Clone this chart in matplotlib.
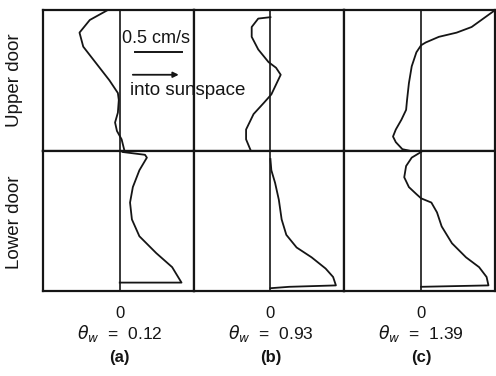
import matplotlib
matplotlib.use("Agg")
import matplotlib.pyplot as plt

plt.rcParams['font.family'] = ['Liberation Sans', 'DejaVu Sans']

# velocity (cm/s) and normalized height within the door opening
a_up_v = [-0.13, -0.32, -0.43, -0.39, -0.25, -0.11, -0.02, -0.01, -0.02, -0.05, -0.03, 0.02, 0.05]
a_up_h = [1.00, 0.93, 0.84, 0.74, 0.62, 0.50, 0.41, 0.36, 0.27, 0.20, 0.14, 0.08, 0.00]
a_lo_v = [0.03, 0.27, 0.29, 0.21, 0.14, 0.11, 0.13, 0.21, 0.39, 0.56, 0.66, 0.00]
a_lo_h = [0.99, 0.97, 0.95, 0.86, 0.74, 0.63, 0.51, 0.39, 0.27, 0.17, 0.06, 0.06]

b_up_v = [0.00, -0.13, -0.20, -0.20, -0.13, -0.02, 0.06, 0.11, 0.06, 0.01, -0.07, -0.18, -0.26, -0.26, -0.21]
b_up_h = [0.95, 0.94, 0.88, 0.81, 0.72, 0.63, 0.59, 0.54, 0.47, 0.40, 0.34, 0.26, 0.15, 0.08, 0.00]
b_lo_v = [0.00, 0.01, 0.05, 0.09, 0.12, 0.17, 0.28, 0.44, 0.59, 0.67, 0.70, 0.20, 0.00]
b_lo_h = [0.94, 0.86, 0.77, 0.65, 0.51, 0.40, 0.31, 0.24, 0.16, 0.10, 0.04, 0.03, 0.02]

c_up_v = [0.79, 0.54, 0.38, 0.19, 0.05, 0.00, -0.05, -0.10, -0.13, -0.15, -0.16, -0.21, -0.27, -0.30, -0.27, -0.20, -0.13]
c_up_h = [1.00, 0.88, 0.84, 0.81, 0.77, 0.75, 0.70, 0.60, 0.48, 0.36, 0.29, 0.22, 0.15, 0.10, 0.06, 0.01, 0.00]
c_lo_v = [0.00, -0.10, -0.16, -0.18, -0.13, -0.05, 0.00, 0.11, 0.17, 0.22, 0.33, 0.48, 0.62, 0.70, 0.72, 0.00]
c_lo_h = [0.99, 0.95, 0.89, 0.81, 0.74, 0.69, 0.66, 0.63, 0.56, 0.46, 0.34, 0.24, 0.17, 0.10, 0.04, 0.03]

theta_vals = ["0.12", "0.93", "1.39"]
panel_tags = ["(a)", "(b)", "(c)"]
row_labels = ["Upper door", "Lower door"]
scale_value = 0.5

profiles = [
    [(a_up_v, a_up_h), (b_up_v, b_up_h), (c_up_v, c_up_h)],
    [(a_lo_v, a_lo_h), (b_lo_v, b_lo_h), (c_lo_v, c_lo_h)],
]

ink = '#151515'
fig = plt.figure(figsize=(4.96, 3.76), dpi=100)
gs = fig.add_gridspec(2, 3, left=0.0867, right=0.998, top=0.973, bottom=0.226,
                      wspace=0, hspace=0)

axes = [[fig.add_subplot(gs[r, c]) for c in range(3)] for r in range(2)]
for r in range(2):
    for c in range(3):
        ax = axes[r][c]
        v, h = profiles[r][c]
        ax.plot(v, h, color=ink, lw=1.3, clip_on=True)
        ax.axvline(0, color=ink, lw=1.2)
        ax.set_xlim(-0.82, 0.79)
        ax.set_ylim(0, 1)
        ax.set_yticks([])
        for s in ax.spines.values():
            s.set_linewidth(1.6)
            s.set_color(ink)
        if r == 1:
            ax.set_xticks([0])
            ax.set_xticklabels(["0"], fontsize=12)
            ax.tick_params(axis='x', length=0, pad=11, colors=ink)
            tr = ax.get_xaxis_transform()
            ax.text(0, -0.30, r"$\theta_w$  =  " + theta_vals[c],
                    transform=tr, ha='center', va='center', fontsize=12.5, color=ink)
            ax.text(0, -0.47, panel_tags[c], transform=tr, ha='center', va='center',
                    fontsize=12, fontweight='bold', color=ink)
        else:
            ax.set_xticks([])

# legend in panel (a), upper door (figure-level so it is drawn above panel b)
ax = axes[0][0]
fig.text(0.02, 0.80, "0.5 cm/s", fontsize=13, ha='left', va='center', color=ink,
         transform=ax.transData)
ax.plot([0.16, 0.16 + scale_value], [0.70, 0.70], color=ink, lw=1.4)
ax.annotate("", xy=(0.66, 0.54), xytext=(0.11, 0.54),
            arrowprops=dict(arrowstyle='-|>', color=ink, lw=1.3, mutation_scale=8))
fig.text(0.11, 0.43, "into sunspace", fontsize=13.5, ha='left', va='center',
         color=ink, transform=ax.transData)

fig.text(15 / 496, 1 - 80 / 376, row_labels[0], rotation=90, ha='center', va='center',
         fontsize=13.5, color=ink)
fig.text(15 / 496, 1 - 222 / 376, row_labels[1], rotation=90, ha='center', va='center',
         fontsize=13.5, color=ink)

fig.savefig("out.png", dpi=100)
